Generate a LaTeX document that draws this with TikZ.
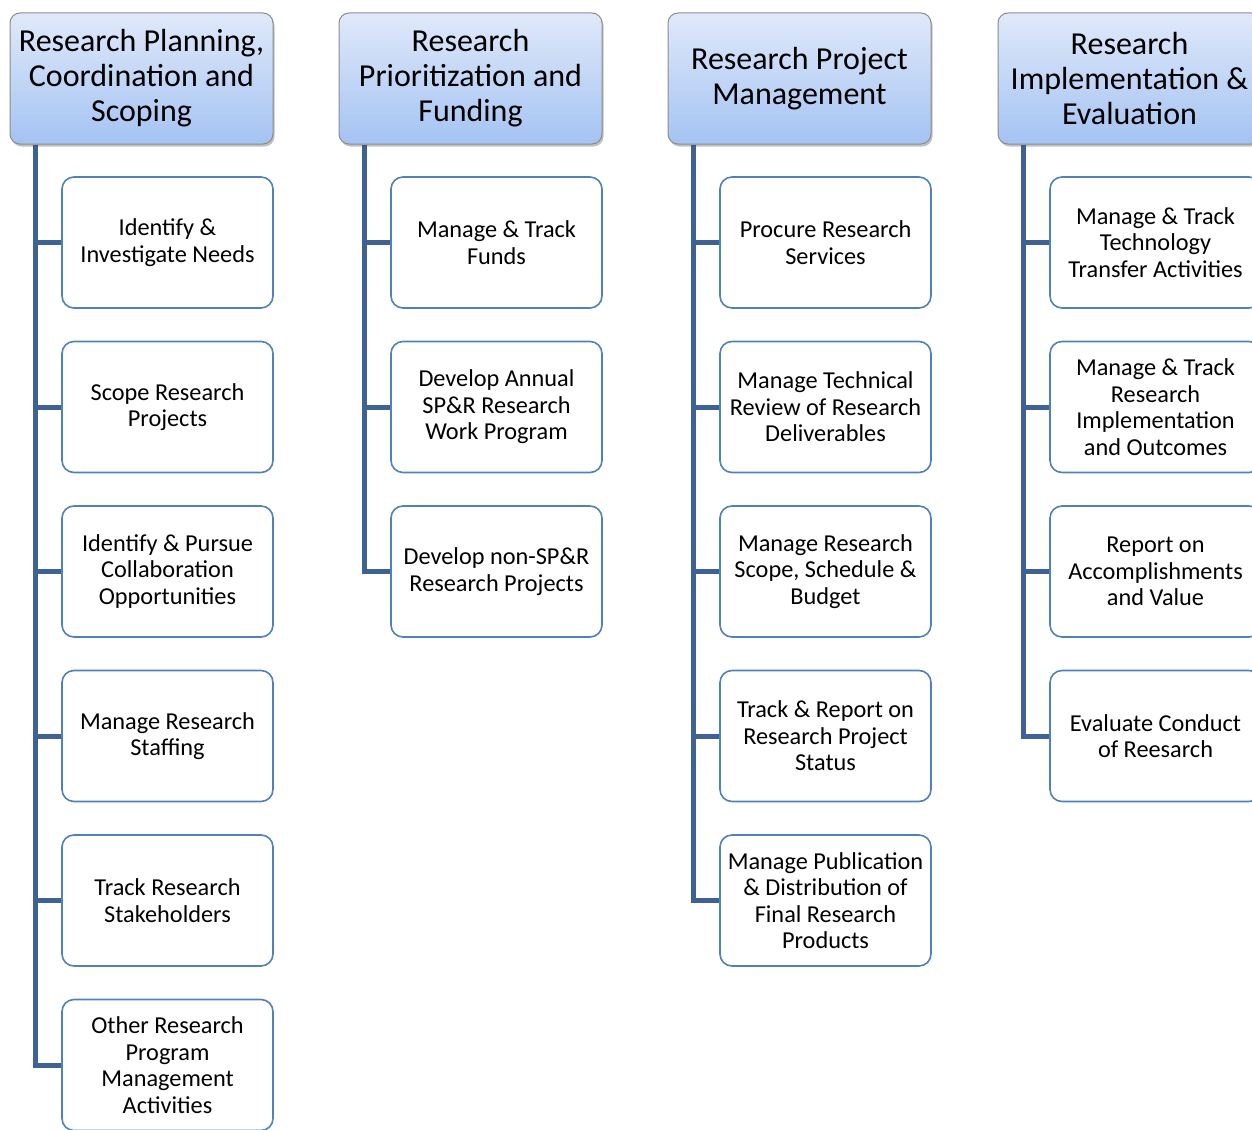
\documentclass[tikz,border=0pt]{standalone}
\usepackage{fontspec}
\setmainfont{Carlito}
\usetikzlibrary{shadows,calc,backgrounds}
\definecolor{navy}{RGB}{62,98,148}
\definecolor{edge}{RGB}{79,129,189}
\definecolor{headtop}{RGB}{224,233,250}
\definecolor{headbot}{RGB}{164,195,242}

\begin{document}
\begin{tikzpicture}[x=1pt,y=-1pt,
 head/.style={draw=black!45,rounded corners=10pt,line width=1pt,
 top color=headtop,bottom color=headbot,minimum width=263pt,
 minimum height=131pt,align=center,font=\fontsize{32}{35}\selectfont,
 drop shadow={shadow xshift=1.5pt,shadow yshift=-2.5pt,opacity=.35,fill=black!70}},
 task/.style={draw=edge,fill=white,rounded corners=12pt,line width=1.6pt,
 minimum width=211pt,minimum height=131pt,align=center,
 font=\fontsize{24.3}{26.5}\selectfont},
 link/.style={draw=navy,line width=5pt}
]
\useasboundingbox (0,0) rectangle (1252,1129);
\clip (0,0) rectangle (1252,1129);
% column headers
\node[head] (h1) at (141.5,78.5) {Research Planning,\\Coordination and\\Scoping};
\node[head] (h2) at (470.5,78.5) {Research\\Prioritization and\\Funding};
\node[head] (h3) at (799.5,78.5) {Research Project\\Management};
\node[head] (h4) at (1129.5,78.5) {Research\\Implementation \&\\Evaluation};
% planning tasks
\node[task] (c11) at (167.5,242.5) {Identify \&\\Investigate Needs};
\node[task] (c12) at (167.5,407) {Scope Research\\Projects};
\node[task] (c13) at (167.5,571.5) {Identify \& Pursue\\Collaboration\\Opportunities};
\node[task] (c14) at (167.5,736) {Manage Research\\Staffing};
\node[task] (c15) at (167.5,900.5) {Track Research\\Stakeholders};
\node[task] (c16) at (167.5,1065) {Other Research\\Program\\Management\\Activities};
% funding tasks
\node[task] (c21) at (496.5,242.5) {Manage \& Track\\Funds};
\node[task] (c22) at (496.5,407) {Develop Annual\\SP\&R Research\\Work Program};
\node[task] (c23) at (496.5,571.5) {Develop non-SP\&R\\Research Projects};
% project management tasks
\node[task] (c31) at (825.5,242.5) {Procure Research\\Services};
\node[task] (c32) at (825.5,407) {Manage Technical\\Review of Research\\Deliverables};
\node[task] (c33) at (825.5,571.5) {Manage Research\\Scope, Schedule \&\\Budget};
\node[task] (c34) at (825.5,736) {Track \& Report on\\Research Project\\Status};
\node[task] (c35) at (825.5,900.5) {Manage Publication\\\& Distribution of\\Final Research\\Products};
% implementation tasks
\node[task] (c41) at (1155.5,242.5) {Manage \& Track\\Technology\\Transfer Activities};
\node[task] (c42) at (1155.5,407) {Manage \& Track\\Research\\Implementation\\and Outcomes};
\node[task] (c43) at (1155.5,571.5) {Report on\\Accomplishments\\and Value};
\node[task] (c44) at (1155.5,736) {Evaluate Conduct\\of Reesarch};
\coordinate (s1) at ($(h1.south west)+(26,0)$);
\coordinate (s2) at ($(h2.south west)+(26,0)$);
\coordinate (s3) at ($(h3.south west)+(26,0)$);
\coordinate (s4) at ($(h4.south west)+(26,0)$);
\begin{scope}[on background layer]
 \draw[link] (s1) |- (c11.west); \draw[link] (s1) |- (c12.west);
 \draw[link] (s1) |- (c13.west); \draw[link] (s1) |- (c14.west);
 \draw[link] (s1) |- (c15.west); \draw[link] (s1) |- (c16.west);
 \draw[link] (s2) |- (c21.west); \draw[link] (s2) |- (c22.west);
 \draw[link] (s2) |- (c23.west);
 \draw[link] (s3) |- (c31.west); \draw[link] (s3) |- (c32.west);
 \draw[link] (s3) |- (c33.west); \draw[link] (s3) |- (c34.west);
 \draw[link] (s3) |- (c35.west);
 \draw[link] (s4) |- (c41.west); \draw[link] (s4) |- (c42.west);
 \draw[link] (s4) |- (c43.west); \draw[link] (s4) |- (c44.west);
\end{scope}
\end{tikzpicture}
\end{document}
